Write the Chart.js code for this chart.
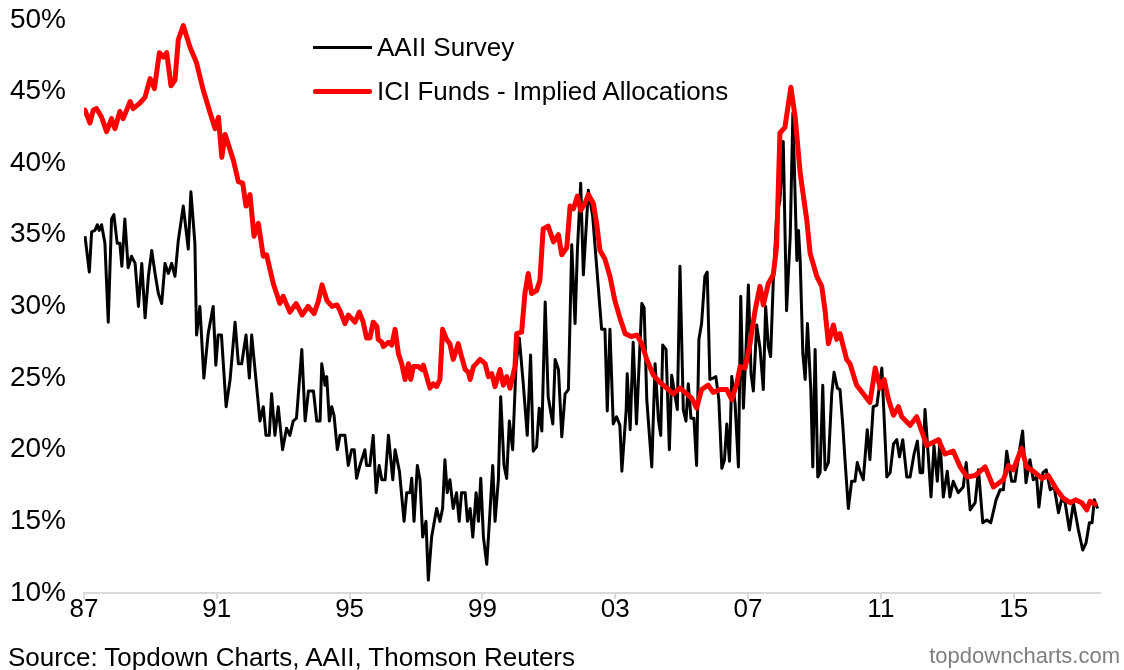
<!DOCTYPE html>
<html>
<head>
<meta charset="utf-8">
<script src="https://cdn.jsdelivr.net/npm/chart.js@4.4.0/dist/chart.umd.min.js"></script>
<style>
  html, body { margin: 0; padding: 0; background: #fff; }
  #wrap { position: relative; width: 1124px; height: 670px; overflow: hidden; font-family: "Liberation Sans", Arial, sans-serif; color: #000; }
  /* canvas pulled up a bit: the chart lib keeps some space above the plot */
  #chart { position: absolute; left: 0; top: -15px; }
  .swatch { position: absolute; left: 313px; width: 59px; }
  .label { position: absolute; left: 377px; font-size: 26px; line-height: 26px; white-space: nowrap; }
  .source { position: absolute; left: 8px; top: 644px; font-size: 26px; line-height: 26px; white-space: nowrap; }
  .site { position: absolute; right: 4px; top: 645px; font-size: 22px; line-height: 22px; color: #7f7f7f; white-space: nowrap; }
</style>
</head>
<body>
<div id="wrap">
  <canvas id="chart" width="1124" height="685"></canvas>
  <div class="swatch" style="top:45.5px;height:3px;background:#000;"></div>
  <div class="label" style="top:34px;">AAII Survey</div>
  <div class="swatch" style="top:88.5px;height:5px;background:#ff0000;border-radius:2px;"></div>
  <div class="label" style="top:78px;">ICI Funds - Implied Allocations</div>
  <div class="source">Source: Topdown Charts, AAII, Thomson Reuters</div>
  <div class="site">topdowncharts.com</div>
</div>
<script>
// Axis ticks
const tickYears = [1987, 1991, 1995, 1999, 2003, 2007, 2011, 2015];
const tickLabels = ['87', '91', '95', '99', '03', '07', '11', '15'];
const yTicks = [10, 15, 20, 25, 30, 35, 40, 45, 50];

// AAII Survey (% allocation)
const aaiiYears = [
  1987.03, 1987.16, 1987.23, 1987.33, 1987.40, 1987.46, 1987.53, 1987.63, 1987.73, 1987.83,
  1987.90, 1988.00, 1988.08, 1988.14, 1988.23, 1988.33, 1988.43, 1988.54, 1988.64, 1988.74,
  1988.84, 1988.94, 1989.04, 1989.14, 1989.24, 1989.34, 1989.44, 1989.54, 1989.64, 1989.74,
  1989.84, 1989.99, 1990.14, 1990.22, 1990.34, 1990.39, 1990.49, 1990.61, 1990.74, 1990.89,
  1990.97, 1991.04, 1991.14, 1991.28, 1991.40, 1991.55, 1991.65, 1991.75, 1991.88, 1991.98,
  1992.05, 1992.30, 1992.40, 1992.48, 1992.58, 1992.65, 1992.75, 1992.85, 1992.98, 1993.10,
  1993.20, 1993.30, 1993.40, 1993.56, 1993.66, 1993.76, 1993.91, 1994.01, 1994.11, 1994.16,
  1994.26, 1994.31, 1994.39, 1994.46, 1994.53, 1994.63, 1994.71, 1994.86, 1994.96, 1995.06,
  1995.14, 1995.21, 1995.31, 1995.46, 1995.51, 1995.61, 1995.71, 1995.80, 1995.89, 1995.97,
  1996.07, 1996.17, 1996.30, 1996.37, 1996.50, 1996.64, 1996.72, 1996.82, 1996.87, 1996.94,
  1997.04, 1997.12, 1997.20, 1997.30, 1997.37, 1997.47, 1997.62, 1997.72, 1997.80, 1997.87,
  1997.94, 1998.02, 1998.12, 1998.22, 1998.30, 1998.37, 1998.48, 1998.55, 1998.63, 1998.71,
  1998.81, 1998.88, 1998.95, 1999.03, 1999.13, 1999.21, 1999.31, 1999.38, 1999.48, 1999.55,
  1999.65, 1999.73, 1999.81, 1999.91, 2000.01, 2000.11, 2000.23, 2000.35, 2000.45, 2000.53,
  2000.63, 2000.71, 2000.79, 2000.89, 2000.98, 2001.12, 2001.19, 2001.29, 2001.39, 2001.49,
  2001.59, 2001.69, 2001.79, 2001.86, 2001.96, 2002.04, 2002.19, 2002.32, 2002.44, 2002.59,
  2002.69, 2002.76, 2002.84, 2002.94, 2003.04, 2003.14, 2003.20, 2003.33, 2003.36, 2003.45,
  2003.54, 2003.64, 2003.80, 2003.87, 2003.95, 2004.10, 2004.20, 2004.30, 2004.37, 2004.43,
  2004.53, 2004.63, 2004.70, 2004.77, 2004.87, 2004.95, 2005.05, 2005.13, 2005.20, 2005.28,
  2005.37, 2005.45, 2005.52, 2005.60, 2005.70, 2005.77, 2005.85, 2005.95, 2006.03, 2006.12,
  2006.21, 2006.29, 2006.36, 2006.44, 2006.51, 2006.61, 2006.71, 2006.78, 2006.86, 2006.94,
  2007.01, 2007.09, 2007.16, 2007.26, 2007.36, 2007.46, 2007.53, 2007.61, 2007.68, 2007.76,
  2007.86, 2007.96, 2008.06, 2008.16, 2008.27, 2008.35, 2008.47, 2008.52, 2008.57, 2008.65,
  2008.72, 2008.79, 2008.89, 2008.95, 2009.02, 2009.10, 2009.17, 2009.25, 2009.32, 2009.42,
  2009.52, 2009.59, 2009.69, 2009.77, 2009.85, 2009.92, 2010.02, 2010.12, 2010.22, 2010.29,
  2010.37, 2010.47, 2010.59, 2010.67, 2010.77, 2010.88, 2011.03, 2011.18, 2011.28, 2011.38,
  2011.48, 2011.56, 2011.66, 2011.78, 2011.88, 2012.00, 2012.10, 2012.18, 2012.26, 2012.33,
  2012.43, 2012.51, 2012.60, 2012.70, 2012.78, 2012.88, 2013.00, 2013.08, 2013.18, 2013.33,
  2013.48, 2013.57, 2013.69, 2013.84, 2013.94, 2014.07, 2014.19, 2014.31, 2014.47, 2014.59,
  2014.69, 2014.79, 2014.94, 2015.04, 2015.17, 2015.27, 2015.37, 2015.49, 2015.59, 2015.69,
  2015.76, 2015.88, 2015.98, 2016.10, 2016.22, 2016.35, 2016.45, 2016.55, 2016.68, 2016.80,
  2016.95, 2017.08, 2017.18, 2017.28, 2017.36, 2017.43, 2017.53
];
const aaiiValues = [
  34.9, 32.4, 35.2, 35.3, 35.7, 35.3, 35.7, 34.4, 28.9, 36.1,
  36.4, 34.4, 34.4, 32.8, 36.1, 32.7, 33.5, 33.0, 30.0, 33.0,
  29.2, 32.1, 33.9, 32.3, 30.9, 30.2, 33.0, 32.3, 33.0, 32.1,
  34.6, 37.0, 34.0, 38.0, 34.4, 28.0, 30.0, 25.0, 28.1, 30.0,
  25.9, 28.0, 28.0, 23.0, 24.9, 28.9, 26.0, 26.0, 28.0, 25.0,
  28.0, 22.0, 23.0, 21.0, 21.0, 23.9, 21.0, 23.0, 20.0, 21.5,
  21.0, 22.0, 22.2, 27.0, 22.0, 24.1, 24.1, 22.0, 22.0, 26.0,
  24.5, 25.1, 22.0, 23.0, 22.4, 20.0, 21.0, 21.0, 18.9, 20.0,
  20.0, 18.0, 18.9, 20.0, 18.9, 18.9, 21.0, 17.0, 18.9, 17.9,
  17.9, 21.0, 17.9, 20.0, 18.5, 15.0, 17.0, 17.0, 18.0, 15.0,
  18.9, 17.9, 13.9, 15.0, 10.9, 13.9, 15.9, 15.0, 15.9, 19.3,
  17.0, 17.9, 15.9, 17.0, 15.0, 17.0, 17.0, 15.0, 15.9, 13.9,
  17.0, 15.0, 18.0, 13.9, 12.0, 15.0, 18.9, 15.0, 17.9, 23.7,
  18.9, 18.0, 22.0, 20.0, 25.8, 27.8, 24.6, 21.0, 26.6, 19.9,
  20.2, 22.9, 21.3, 30.3, 23.7, 21.8, 26.3, 25.6, 20.9, 23.9,
  24.2, 34.3, 28.8, 33.9, 38.6, 32.2, 38.1, 36.3, 32.8, 28.4,
  28.4, 22.7, 28.4, 21.8, 22.3, 21.7, 18.5, 22.8, 25.3, 21.4,
  27.5, 21.8, 30.2, 29.9, 23.5, 18.8, 26.0, 22.1, 21.0, 27.3,
  27.0, 20.0, 25.2, 24.2, 22.8, 32.8, 22.8, 22.0, 24.6, 22.2,
  22.2, 18.9, 27.7, 28.8, 32.1, 32.4, 24.9, 25.0, 25.1, 23.5,
  18.7, 19.3, 21.8, 19.2, 25.1, 23.2, 18.8, 30.7, 22.9, 27.0,
  31.5, 25.3, 24.1, 28.7, 27.1, 24.2, 30.0, 27.2, 26.5, 31.8,
  36.3, 37.4, 41.5, 29.7, 34.9, 43.5, 33.2, 35.3, 33.2, 26.7,
  24.9, 28.8, 24.2, 18.8, 27.0, 18.1, 18.4, 24.5, 18.6, 19.1,
  23.9, 25.4, 24.3, 24.2, 21.8, 19.3, 15.9, 17.8, 17.8, 19.1,
  18.5, 17.9, 21.4, 19.3, 23.0, 23.1, 25.7, 18.1, 18.4, 20.4,
  20.7, 19.5, 20.7, 18.1, 18.1, 19.7, 20.6, 18.4, 18.4, 22.8,
  19.5, 16.7, 20.3, 17.8, 20.7, 16.7, 18.5, 16.7, 17.8, 17.0,
  17.4, 19.1, 15.8, 16.3, 18.6, 14.9, 15.1, 14.9, 16.5, 17.2,
  17.2, 19.9, 17.8, 17.8, 19.9, 21.3, 17.7, 19.3, 17.9, 18.1,
  16.0, 18.4, 18.6, 17.2, 17.4, 15.6, 16.6, 16.3, 14.4, 16.3,
  14.4, 13.0, 13.5, 14.9, 14.9, 16.5, 15.9
];

// ICI Funds - implied allocations (%)
const iciYears = [
  1987.03, 1987.18, 1987.28, 1987.38, 1987.53, 1987.68, 1987.83, 1987.93, 1988.08, 1988.18,
  1988.39, 1988.48, 1988.69, 1988.84, 1988.99, 1989.12, 1989.27, 1989.39, 1989.49, 1989.62,
  1989.74, 1989.84, 1989.99, 1990.19, 1990.39, 1990.59, 1990.80, 1990.95, 1991.05, 1991.15,
  1991.25, 1991.50, 1991.65, 1991.78, 1991.88, 1992.00, 1992.12, 1992.25, 1992.40, 1992.50,
  1992.70, 1992.90, 1993.00, 1993.20, 1993.39, 1993.57, 1993.75, 1993.93, 1994.05, 1994.17,
  1994.32, 1994.47, 1994.62, 1994.71, 1994.86, 1994.96, 1995.16, 1995.29, 1995.41, 1995.51,
  1995.61, 1995.71, 1995.82, 1995.86, 1995.97, 1996.02, 1996.17, 1996.27, 1996.37, 1996.47,
  1996.57, 1996.67, 1996.77, 1996.84, 1996.92, 1997.07, 1997.17, 1997.22, 1997.32, 1997.42,
  1997.52, 1997.62, 1997.72, 1997.80, 1997.92, 1998.02, 1998.12, 1998.27, 1998.37, 1998.48,
  1998.58, 1998.63, 1998.73, 1998.93, 1999.08, 1999.18, 1999.28, 1999.38, 1999.53, 1999.63,
  1999.73, 1999.83, 1999.98, 2000.03, 2000.18, 2000.28, 2000.38, 2000.48, 2000.63, 2000.73,
  2000.83, 2000.98, 2001.14, 2001.29, 2001.39, 2001.54, 2001.64, 2001.74, 2001.86, 2001.96,
  2002.09, 2002.19, 2002.34, 2002.44, 2002.54, 2002.69, 2002.84, 2002.99, 2003.14, 2003.30,
  2003.48, 2003.65, 2003.80, 2003.95, 2004.15, 2004.35, 2004.55, 2004.75, 2004.95, 2005.15,
  2005.30, 2005.45, 2005.60, 2005.80, 2005.95, 2006.16, 2006.36, 2006.51, 2006.66, 2006.76,
  2006.91, 2007.06, 2007.21, 2007.36, 2007.46, 2007.61, 2007.76, 2007.86, 2007.96, 2008.11,
  2008.29, 2008.42, 2008.57, 2008.77, 2008.87, 2009.07, 2009.22, 2009.32, 2009.42, 2009.57,
  2009.67, 2009.77, 2009.97, 2010.07, 2010.27, 2010.47, 2010.67, 2010.83, 2010.98, 2011.10,
  2011.23, 2011.38, 2011.53, 2011.63, 2011.88, 2012.08, 2012.38, 2012.73, 2012.93, 2013.18,
  2013.39, 2013.59, 2013.84, 2014.14, 2014.39, 2014.69, 2014.84, 2014.99, 2015.24, 2015.39,
  2015.59, 2015.85, 2016.04, 2016.30, 2016.50, 2016.70, 2016.86, 2017.05, 2017.20, 2017.30,
  2017.45
];
const iciValues = [
  43.7, 42.8, 43.7, 43.8, 43.2, 42.2, 43.1, 42.4, 43.6, 43.1,
  44.3, 43.8, 44.2, 44.6, 45.9, 45.2, 47.7, 47.4, 47.7, 45.4,
  45.8, 48.6, 49.6, 48.1, 47.0, 45.1, 43.5, 42.4, 43.2, 40.4,
  42.0, 40.2, 38.7, 38.6, 37.0, 37.8, 34.9, 35.8, 33.5, 33.6,
  31.6, 30.2, 30.7, 29.6, 30.2, 29.4, 30.0, 29.5, 30.3, 31.5,
  30.4, 30.0, 30.1, 29.7, 28.8, 29.4, 28.9, 29.6, 28.9, 27.8,
  27.8, 28.9, 28.6, 27.7, 27.5, 27.2, 27.5, 27.3, 28.4, 26.7,
  26.0, 24.9, 26.0, 24.9, 25.8, 25.8, 25.6, 25.9, 25.1, 24.3,
  24.6, 24.4, 24.9, 28.4, 27.7, 27.4, 26.3, 27.4, 26.5, 25.6,
  25.4, 24.9, 25.8, 26.3, 26.0, 25.1, 25.3, 24.4, 25.6, 24.5,
  25.1, 24.3, 25.8, 28.1, 28.2, 30.9, 32.3, 30.9, 31.1, 31.8,
  35.4, 35.6, 34.5, 35.0, 33.6, 34.1, 37.0, 36.8, 37.7, 36.7,
  37.2, 37.8, 37.2, 35.8, 33.9, 33.3, 32.1, 30.4, 29.2, 28.1,
  27.9, 28.0, 27.4, 26.3, 25.2, 24.7, 24.3, 23.9, 24.3, 23.9,
  23.6, 22.9, 24.2, 24.5, 24.0, 24.2, 24.2, 23.5, 24.6, 25.8,
  25.7, 27.4, 29.7, 31.4, 30.1, 31.6, 32.2, 34.2, 42.1, 42.5,
  45.3, 43.2, 39.3, 36.0, 33.7, 32.1, 31.4, 29.7, 27.4, 28.7,
  27.7, 28.1, 26.3, 26.0, 24.5, 23.9, 23.3, 25.7, 24.3, 24.9,
  23.5, 22.4, 23.0, 22.3, 21.7, 22.3, 20.3, 20.7, 19.7, 19.9,
  18.8, 18.1, 18.2, 18.8, 17.4, 17.9, 18.9, 18.6, 20.1, 18.8,
  18.5, 18.0, 18.2, 17.2, 16.6, 16.3, 16.5, 16.3, 15.8, 16.4,
  16.2
];

const FONT = '"Liberation Sans", Arial, sans-serif';

function toPoints(xs, ys) {
  return xs.map((x, i) => ({ x: x, y: ys[i] }));
}

const ctx = document.getElementById('chart').getContext('2d');
new Chart(ctx, {
  type: 'line',
  data: {
    datasets: [
      {
        label: 'AAII Survey',
        data: toPoints(aaiiYears, aaiiValues),
        borderColor: '#000000',
        borderWidth: 3,
        pointRadius: 0,
        tension: 0,
        borderJoinStyle: 'round',
        order: 1
      },
      {
        label: 'ICI Funds - Implied Allocations',
        data: toPoints(iciYears, iciValues),
        borderColor: '#ff0000',
        borderWidth: 5,
        pointRadius: 0,
        tension: 0,
        borderJoinStyle: 'round',
        borderCapStyle: 'round',
        order: 0
      }
    ]
  },
  options: {
    responsive: false,
    animation: false,
    devicePixelRatio: 1,
    layout: { autoPadding: false, padding: { top: 20, right: 24, left: 0, bottom: 0 } },
    plugins: {
      legend: { display: false },
      tooltip: { enabled: false }
    },
    scales: {
      x: {
        type: 'linear',
        min: 1987,
        max: 2017.6,
        afterBuildTicks: scale => { scale.ticks = tickYears.map(v => ({ value: v })); },
        afterFit: scale => { scale.height = 77; },
        ticks: {
          callback: (value, index) => tickLabels[index],
          color: '#000',
          font: { size: 26, family: FONT },
          padding: -5,
          maxRotation: 0,
          autoSkip: false
        },
        grid: { drawOnChartArea: false, drawTicks: true, tickLength: 6, color: '#d9d9d9', lineWidth: 2 },
        border: { display: true, color: '#d9d9d9', width: 2 }
      },
      y: {
        min: 10,
        max: 50,
        afterBuildTicks: scale => { scale.ticks = yTicks.map(v => ({ value: v })); },
        afterFit: scale => { scale.width = 84; },
        ticks: {
          callback: value => value + '%',
          color: '#000',
          font: { size: 28, family: FONT },
          padding: 18
        },
        grid: { display: false, drawTicks: false },
        border: { display: false }
      }
    }
  }
});
</script>
</body>
</html>
